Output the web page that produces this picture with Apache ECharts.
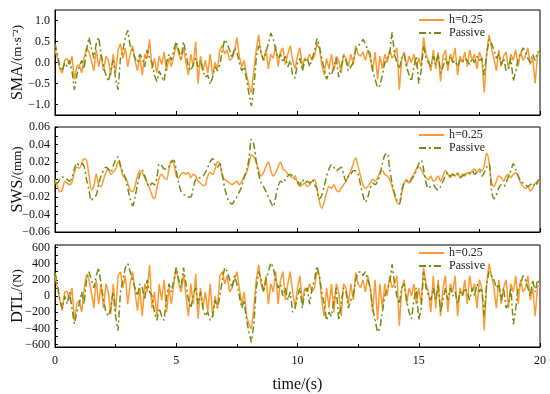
<!DOCTYPE html>
<html>
<head>
<meta charset="utf-8">
<script src="https://cdn.jsdelivr.net/npm/echarts@6/dist/echarts.min.js"></script>
<style>html,body{margin:0;padding:0;background:#fff}#c{width:550px;height:394px}</style>
</head>
<body>
<div id="c"></div>
<script>
// sampling grid: 0 .. 20 s, step 0.1 s
const time = [];
for (let i = 0; i <= 200; i++) time.push(+(i * 0.1).toFixed(1));

const seriesNames = ['h=0.25', 'Passive'];
const xTicks = [0, 5, 10, 15, 20];
const smaTicks = [-1.0, -0.5, 0.0, 0.5, 1.0];
const swsTicks = [-0.06, -0.04, -0.02, 0.00, 0.02, 0.04, 0.06];
const dtlTicks = [-600, -400, -200, 0, 200, 400, 600];

const smaH = [
 0.30,0.10,-0.15,-0.25,0.05,0.10,-0.05,0.15,-0.40,-0.10,
 -0.05,-0.25,0.10,0.35,0.25,0.05,-0.20,0.30,-0.10,0.20,
 -0.20,0.15,0.05,-0.30,0.20,-0.25,0.30,0.45,0.10,0.35,
 -0.10,0.20,0.40,0.05,-0.20,0.15,-0.30,0.20,0.10,0.55,
 -0.15,0.10,-0.25,0.15,-0.05,0.25,-0.20,0.10,-0.10,0.15,
 0.45,0.20,0.05,0.35,0.00,-0.30,0.20,-0.10,0.50,-0.50,
 0.15,-0.20,0.05,-0.25,0.20,-0.30,0.00,-0.15,0.30,0.40,
 0.20,0.30,0.05,0.10,0.25,0.60,0.15,-0.10,0.05,-0.30,
 -0.55,-0.72,-0.20,0.30,0.66,0.20,0.05,0.30,-0.15,0.20,
 0.10,0.40,-0.10,0.25,0.35,-0.05,0.20,0.40,0.05,-0.15,
 0.15,0.35,-0.10,0.10,0.05,0.20,0.05,0.15,0.45,0.35,
 -0.05,-0.30,0.10,-0.15,0.20,-0.20,0.15,0.05,-0.25,0.20,
 0.10,-0.10,0.20,-0.05,0.40,0.20,0.15,0.25,0.05,0.30,
 0.10,-0.20,0.25,-0.40,0.15,-0.15,0.20,0.00,0.30,0.10,
 0.20,0.35,-0.65,0.10,0.25,-0.10,0.15,0.00,0.20,-0.10,
 0.10,-0.10,0.60,0.20,0.05,-0.20,0.30,-0.15,0.25,-0.45,
 0.15,0.30,-0.20,0.20,0.05,0.35,-0.30,0.15,0.00,0.25,
 -0.10,0.30,0.05,0.20,-0.15,0.25,0.10,-0.72,0.20,0.66,
 0.35,0.10,-0.20,0.30,-0.10,0.15,0.25,-0.15,0.20,0.05,
 0.30,-0.10,0.25,0.05,0.15,0.35,-0.05,0.10,-0.50,0.20,
 0.20
];
const smaP = [
 0.45,0.20,-0.10,-0.20,0.00,-0.10,0.05,-0.20,-0.65,-0.30,
 -0.10,0.05,-0.15,0.30,0.60,0.35,0.10,0.45,0.60,0.20,
 -0.10,-0.30,-0.45,-0.20,0.05,-0.40,-0.65,0.10,0.30,0.60,
 0.77,0.40,0.30,0.10,0.00,0.20,0.10,-0.10,0.30,0.10,
 0.00,-0.30,-0.45,-0.20,-0.35,-0.45,0.00,0.20,0.05,0.30,
 0.50,0.30,0.10,0.50,0.20,-0.10,-0.20,-0.05,0.10,-0.10,
 0.05,-0.20,-0.35,-0.30,-0.52,-0.35,-0.10,-0.20,-0.05,0.30,
 0.55,0.45,0.30,0.10,0.35,0.25,0.00,-0.20,-0.10,-0.40,
 -0.75,-1.04,-0.60,0.10,0.40,0.25,0.05,0.25,0.45,0.70,
 0.55,0.30,0.10,0.20,0.00,0.15,-0.10,0.05,-0.30,-0.37,
 0.00,0.10,-0.20,0.05,0.10,-0.10,0.10,0.25,0.57,0.40,
 0.10,-0.15,-0.40,-0.25,-0.30,-0.10,0.10,-0.35,-0.10,0.15,
 0.05,-0.20,-0.10,0.00,0.30,0.40,0.45,0.55,0.45,0.30,
 0.20,-0.20,-0.40,-0.60,-0.55,-0.30,0.00,0.10,0.20,0.72,
 0.20,0.00,-0.15,0.10,0.20,-0.10,-0.30,-0.45,-0.10,0.15,
 -0.50,-0.20,0.40,0.10,0.00,-0.10,0.15,-0.05,0.20,-0.25,
 -0.10,0.10,-0.05,0.15,0.00,0.05,-0.10,0.05,0.00,0.10,
 0.05,-0.05,0.10,0.00,0.15,0.05,0.10,-0.30,0.20,0.55,
 0.45,0.30,0.10,0.20,-0.05,0.10,-0.20,-0.15,0.10,-0.45,
 -0.20,0.10,0.20,0.35,0.25,0.10,0.00,0.20,0.05,0.25,
 0.25
];
const swsH = [
 0.000,-0.008,-0.014,-0.012,-0.002,-0.004,-0.006,-0.003,0.008,0.014,
 0.013,0.018,0.024,0.022,0.005,-0.012,-0.008,0.006,-0.006,-0.008,
 0.000,0.008,0.012,0.006,0.008,0.012,0.020,0.015,0.004,0.002,
 -0.004,-0.012,-0.014,-0.008,0.004,0.010,0.008,0.002,-0.004,-0.010,
 -0.018,-0.022,-0.010,0.002,0.006,0.002,0.000,0.012,0.022,0.018,
 0.004,0.002,0.006,0.008,0.006,0.008,0.002,0.006,0.004,-0.002,
 -0.004,-0.007,-0.006,0.004,0.008,0.006,0.012,0.020,0.018,0.004,
 0.000,-0.002,-0.004,-0.006,-0.004,-0.002,-0.006,-0.002,0.004,0.008,
 0.018,0.028,0.026,0.020,0.010,0.004,0.008,0.015,0.020,0.010,
 0.004,0.008,0.014,0.020,0.012,0.010,0.006,0.004,0.002,0.004,
 -0.004,-0.008,-0.006,-0.004,-0.008,-0.006,-0.002,0.000,-0.010,-0.025,
 -0.033,-0.026,-0.015,-0.008,-0.010,-0.006,-0.012,-0.014,-0.010,-0.006,
 -0.002,0.004,0.010,0.018,0.025,0.015,0.004,-0.006,-0.010,-0.008,
 -0.004,0.000,-0.002,0.002,0.008,0.010,0.006,0.004,0.000,-0.008,
 -0.018,-0.026,-0.028,-0.015,-0.004,0.000,-0.004,0.002,0.006,0.012,
 0.014,0.012,0.006,0.002,0.000,0.004,-0.002,0.000,0.004,-0.002,
 0.004,0.010,0.006,0.002,0.006,0.004,0.008,0.002,0.006,0.004,
 0.008,0.006,0.010,0.012,0.008,0.012,0.010,0.016,0.030,0.020,
 -0.004,-0.008,-0.002,0.004,0.002,-0.002,0.004,0.006,0.002,0.006,
 0.008,0.004,-0.004,-0.008,-0.010,-0.008,-0.013,-0.010,-0.004,-0.004,
 -0.002
];
const swsP = [
 -0.005,-0.004,0.000,0.003,0.002,0.000,-0.002,0.002,0.012,0.019,
 0.016,0.018,0.015,0.000,-0.012,-0.024,-0.020,-0.018,-0.005,0.004,
 0.010,0.014,0.012,0.008,0.016,0.022,0.026,0.016,0.008,0.002,
 -0.010,-0.022,-0.030,-0.020,-0.006,0.006,0.011,0.004,-0.004,-0.008,
 -0.004,-0.006,0.002,0.018,0.016,0.012,0.012,0.015,0.020,0.022,
 0.010,-0.004,-0.014,-0.017,-0.018,-0.020,-0.020,-0.010,0.000,0.002,
 0.002,0.004,0.008,0.014,0.020,0.024,0.016,0.014,0.018,0.006,
 -0.010,-0.020,-0.026,-0.028,-0.024,-0.020,-0.014,-0.008,0.002,0.010,
 0.024,0.046,0.040,0.020,0.006,-0.004,-0.008,-0.014,-0.020,-0.026,
 -0.031,-0.020,-0.008,-0.002,-0.004,0.000,0.004,0.006,0.004,0.000,
 -0.002,-0.006,0.000,-0.004,-0.002,-0.004,0.000,-0.006,-0.010,-0.022,
 -0.018,-0.008,0.004,0.012,0.017,0.014,0.010,0.012,0.014,0.006,
 -0.002,0.004,0.006,0.010,0.010,0.006,-0.006,-0.018,-0.026,-0.020,
 -0.010,-0.004,-0.006,-0.002,0.006,0.018,0.028,0.030,0.012,-0.004,
 -0.016,-0.024,-0.028,-0.012,-0.004,-0.002,-0.004,0.000,0.004,0.010,
 0.018,0.022,0.012,-0.004,-0.010,-0.008,-0.006,-0.010,-0.012,-0.008,
 -0.002,0.004,0.008,0.004,0.006,0.004,0.006,0.002,0.004,0.006,
 0.006,0.008,0.010,0.006,0.008,0.010,0.004,0.008,0.014,0.018,
 -0.012,-0.022,-0.018,-0.010,-0.006,-0.008,-0.004,0.004,0.010,0.018,
 0.012,0.004,-0.002,-0.004,-0.006,-0.008,-0.006,-0.004,-0.008,-0.002,
 0.000
];
const dtlH = [
 250,100,-50,-180,50,60,-50,100,-300,-100,
 -50,-200,80,270,200,50,-150,200,-100,150,
 -150,150,50,-220,150,-200,250,300,100,250,
 -100,150,300,50,-180,100,-250,150,50,385,
 -150,50,-250,150,-50,200,-200,100,-100,150,
 350,150,50,280,0,-250,150,-100,270,-280,
 100,-150,50,-200,150,-250,0,-150,250,300,
 150,250,50,100,200,300,100,-100,50,-250,
 -350,-405,-150,200,385,150,50,250,-100,150,
 50,300,-100,200,300,-50,150,300,50,-150,
 100,250,-100,100,50,150,50,100,300,250,
 -50,-250,100,-150,150,-200,150,50,-250,150,
 100,-100,150,-50,290,150,100,200,50,250,
 100,-200,200,-300,150,-150,150,0,250,100,
 150,250,-365,100,200,-100,100,0,150,-100,
 100,-100,350,150,50,-200,250,-150,200,-250,
 100,250,-200,150,50,250,-250,100,0,200,
 -100,250,50,150,-150,200,100,-425,150,400,
 250,100,-150,200,-100,100,200,-150,150,50,
 250,-100,200,50,100,250,-50,100,-250,120,
 120
];
const dtlP = [
 290,150,-50,-150,0,-100,50,-150,-345,-200,
 -100,50,-100,200,300,200,100,250,350,150,
 -50,-200,-250,-150,50,-250,-426,50,200,350,
 400,300,200,100,0,150,100,-50,200,50,
 0,-200,-300,-150,-250,-300,0,150,50,200,
 350,200,100,350,150,-50,-150,0,100,-100,
 50,-150,-250,-200,-300,-250,-50,-150,0,200,
 350,300,200,100,250,150,0,-150,-50,-300,
 -450,-570,-350,100,300,200,50,200,300,410,
 350,200,100,150,0,100,-50,50,-200,-150,
 0,100,-150,50,100,-100,100,200,370,250,
 50,-100,-300,-200,-250,-50,100,-300,-100,100,
 50,-150,-50,0,200,290,300,250,300,200,
 100,-150,-300,-445,-400,-200,0,100,150,390,
 150,0,-100,100,150,-50,-200,-280,-50,100,
 -300,-150,300,100,0,-50,100,-50,150,-200,
 -50,100,-50,100,0,50,-100,50,0,100,
 50,-50,100,0,150,50,100,-250,150,300,
 250,200,100,150,-50,100,-150,-100,100,-350,
 -150,100,150,250,200,100,0,200,50,200,
 150
];

const FONT = "'Liberation Serif','Times New Roman',serif";
const ORANGE = '#FF9933';
const GREEN = '#6E8F14';

const pair = arr => time.map((t, i) => [t, arr[i]]);

const grids = [
  {left: 55, right: 10, top: 10, height: 105},
  {left: 55, right: 10, top: 127, height: 105},
  {left: 55, right: 10, top: 245, height: 102}
].map(g => Object.assign(g, {show: true, borderColor: '#000', borderWidth: 1, backgroundColor: 'transparent', containLabel: false, outerBoundsMode: 'none'}));

function xAxis(idx, showLabels) {
  return {
    type: 'value', gridIndex: idx, min: 0, max: 20, interval: 5,
    axisLine: {show: true, onZero: false, lineStyle: {color: '#000', width: 1}},
    axisTick: {show: true, inside: true, length: 4, lineStyle: {color: '#000'}},
    minorTick: {show: true, splitNumber: 2, length: 3, lineStyle: {color: '#000'}},
    splitLine: {show: false}, minorSplitLine: {show: false},
    axisLabel: {show: showLabels, color: '#111', fontFamily: FONT, fontSize: 12, margin: 8},
    name: showLabels ? 'time/(s)' : '', nameLocation: 'middle', nameGap: 30,
    nameTextStyle: {color: '#111', fontFamily: FONT, fontSize: 16}
  };
}

function yAxis(idx, min, max, ticks, minorTicks, fmt, name) {
  return {
    type: 'value', gridIndex: idx, min: min, max: max,
    axisLine: {show: true, lineStyle: {color: '#000', width: 1}},
    axisTick: {show: true, inside: true, length: 3, customValues: ticks.concat(minorTicks), lineStyle: {color: '#000'}},
    splitLine: {show: false},
    axisLabel: {show: true, customValues: ticks, formatter: fmt, color: '#111', fontFamily: FONT, fontSize: 12, margin: 5},
    name: name, nameLocation: 'middle', nameGap: 29, nameMoveOverlap: false,
    nameTextStyle: {
      align: 'center', verticalAlign: 'bottom',
      rich: {
        a: {fontFamily: FONT, fontSize: 16, color: '#111'},
        b: {fontFamily: FONT, fontSize: 13, color: '#111'}
      }
    }
  };
}

function legend(top) {
  return {
    left: 413, top: top, orient: 'vertical', itemGap: 1, itemWidth: 25, itemHeight: 10,
    data: seriesNames,
    itemStyle: {opacity: 0},
    textStyle: {fontFamily: FONT, fontSize: 12, color: '#222', lineHeight: 12}
  };
}

function line(name, data, idx) {
  const isP = name === 'Passive';
  return {
    name: name, type: 'line', xAxisIndex: idx, yAxisIndex: idx,
    data: data, symbol: 'none', showSymbol: false, smooth: idx === 1 ? 0.3 : false,
    animation: false, z: isP ? 3 : 2,
    itemStyle: {color: isP ? GREEN : ORANGE},
    lineStyle: {color: isP ? GREEN : ORANGE, width: 1.5, type: isP ? [7, 3, 2, 3] : 'solid'}
  };
}

const chart = echarts.init(document.getElementById('c'), null, {renderer: 'canvas'});
chart.setOption({
  animation: false,
  backgroundColor: '#fff',
  grid: grids,
  legend: [legend(9), legend(124), legend(242)],
  xAxis: [xAxis(0, false), xAxis(1, false), xAxis(2, true)],
  yAxis: [
    yAxis(0, -1.25, 1.25, smaTicks, [], v => v.toFixed(1).replace('-', '\u2212'), '{a|SMA/}{b|(m·s⁻²)}'),
    yAxis(1, -0.06, 0.06, swsTicks, [-0.05, -0.03, -0.01, 0.01, 0.03, 0.05], v => v.toFixed(2).replace('-', '\u2212'), '{a|SWS/}{b|(mm)}'),
    yAxis(2, -629, 629, dtlTicks, [-500, -300, -100, 100, 300, 500], v => String(v).replace('-', '\u2212'), '{a|DTL/}{b|(N)}')
  ],
  series: [
    line('h=0.25', pair(smaH), 0), line('Passive', pair(smaP), 0),
    line('h=0.25', pair(swsH), 1), line('Passive', pair(swsP), 1),
    line('h=0.25', pair(dtlH), 2), line('Passive', pair(dtlP), 2)
  ]
});
</script>
</body>
</html>
